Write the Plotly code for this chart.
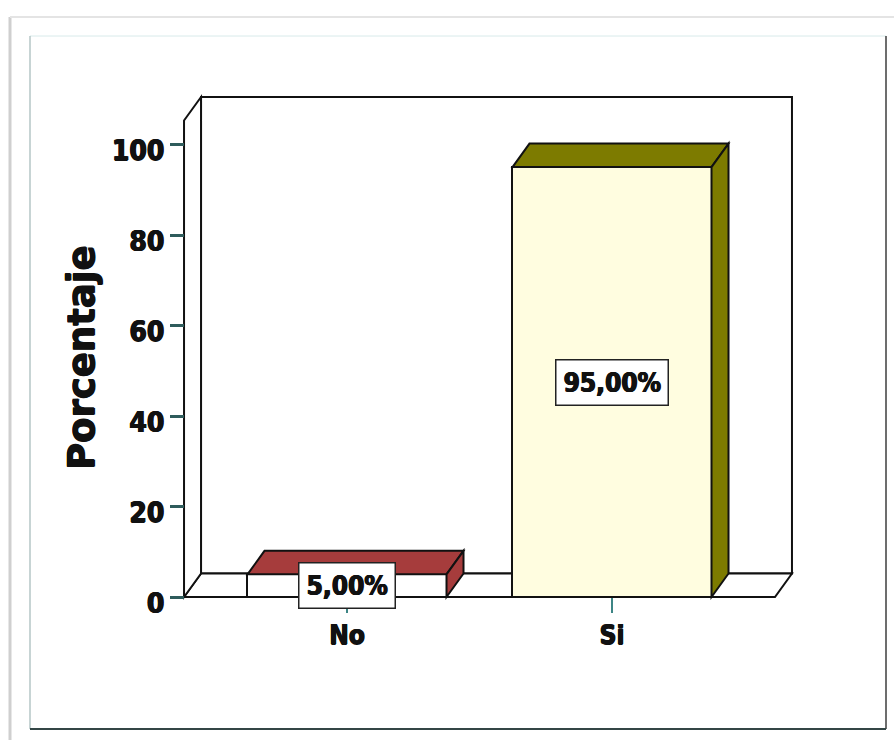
import plotly.graph_objects as go

# Share of answers per category (percent)
categories = ["No", "Si"]
percentages = [5.0, 95.0]
y_ticks = [0, 20, 40, 60, 80, 100]
axis_title = "Porcentaje"

# Face colours for each bar: front, top/side
front_colors = ["#FFFFFF", "#FFFDE0"]
depth_colors = ["#A63C3C", "#7D7B00"]

# Canvas and plot-area geometry
W, H = 894, 740
ML, MR, MT, MB = 172, 92, 92, 135
PW, PH = W - ML - MR, H - MT - MB

# Axis scales (pixels per data unit) and ranges
PX_X, PX_Y = 265.0, 4.525
x_min = -(347 - ML) / PX_X
x_max = x_min + PW / PX_X
y_min = -(H - MB - 597) / PX_Y
y_max = y_min + PH / PX_Y

# Pseudo-3D depth offset in data units
DX = 17 / PX_X
DY = 23.5 / PX_Y
BAR_W = 0.751
X_LEFT, X_RIGHT = -0.615, 1.615
WALL_TOP = 110.5

LINE = dict(color="#111111", width=2)

# Heavy text: bold face thickened with a tight text-shadow
HEAVY = "0.7px 0px 0px #111111, -0.5px 0px 0px #111111, 0px 0.5px 0px #111111"


def heavy_font(family, size):
    return dict(family=family, size=size, color="#111111", weight="bold", shadow=HEAVY)


def px(xp):
    return (xp - ML) / PW


def py(yp):
    return (H - MB - yp) / PH


def poly(points):
    return "M " + " L ".join(f"{a},{b}" for a, b in points) + " Z"


shapes = []

# Page frame
frame = [
    (10, 17, 10, 740, "#cfcfcf", 3),
    (10, 17, 894, 17, "#e4e4e4", 2),
    (30, 36, 886, 36, "#d8eaea", 1),
    (30, 36, 30, 729, "#b5c6c6", 1.5),
    (886, 36, 886, 729, "#3c3c3c", 1.5),
    (30, 729, 886, 729, "#344646", 2),
]
for x0, y0, x1, y1, c, w in frame:
    shapes.append(dict(type="line", xref="paper", yref="paper",
                       x0=px(x0), y0=py(y0), x1=px(x1), y1=py(y1),
                       line=dict(color=c, width=w), layer="below"))

# Back wall, floor and left wall of the 3D box
shapes.append(dict(type="path", xref="x", yref="y", layer="below",
                   path=poly([(X_LEFT + DX, DY), (X_RIGHT + DX, DY),
                              (X_RIGHT + DX, WALL_TOP), (X_LEFT + DX, WALL_TOP)]),
                   fillcolor="white", line=LINE))
shapes.append(dict(type="path", xref="x", yref="y", layer="below",
                   path=poly([(X_LEFT, 0), (X_RIGHT, 0),
                              (X_RIGHT + DX, DY), (X_LEFT + DX, DY)]),
                   fillcolor="white", line=LINE))
shapes.append(dict(type="path", xref="x", yref="y", layer="below",
                   path=poly([(X_LEFT, 0), (X_LEFT, WALL_TOP - DY),
                              (X_LEFT + DX, WALL_TOP), (X_LEFT + DX, DY)]),
                   fillcolor="white", line=LINE))

# Top and side faces of each bar
for i, v in enumerate(percentages):
    xl, xr = i - BAR_W / 2, i + BAR_W / 2
    shapes.append(dict(type="path", xref="x", yref="y", layer="above",
                       path=poly([(xl, v), (xl + DX, v + DY),
                                  (xr + DX, v + DY), (xr, v)]),
                       fillcolor=depth_colors[i], line=LINE))
    shapes.append(dict(type="path", xref="x", yref="y", layer="above",
                       path=poly([(xr, 0), (xr, v),
                                  (xr + DX, v + DY), (xr + DX, DY)]),
                       fillcolor=depth_colors[i], line=LINE))

fig = go.Figure()
fig.add_trace(go.Bar(
    x=list(range(len(categories))),
    y=percentages,
    width=BAR_W,
    marker=dict(color=front_colors, line=dict(color="#111111", width=2)),
    hoverinfo="skip",
    showlegend=False,
))

# Value labels in the middle of each bar
annotations = []
for i, v in enumerate(percentages):
    annotations.append(dict(
        x=i, y=v / 2, xref="x", yref="y",
        text=f"{v:.2f}".replace(".", ",") + "%",
        showarrow=False,
        font=heavy_font("DejaVu Sans Condensed", 26),
        bgcolor="white", bordercolor="#222222", borderwidth=1.5, borderpad=7,
    ))

annotations.append(dict(
    x=px(81), y=py(358), xref="paper", yref="paper",
    xanchor="center", yanchor="middle",
    text=axis_title, textangle=-90, showarrow=False,
    font=heavy_font("DejaVu Sans", 37),
))

fig.update_layout(
    width=W, height=H,
    margin=dict(l=ML, r=MR, t=MT, b=MB, autoexpand=False),
    paper_bgcolor="white", plot_bgcolor="rgba(0,0,0,0)",
    shapes=shapes, annotations=annotations,
    bargap=0,
)

fig.update_xaxes(
    range=[x_min, x_max], anchor="free", position=py(597),
    tickvals=list(range(len(categories))), ticktext=categories,
    ticks="outside", ticklen=15, tickwidth=2, tickcolor="#3d8585",
    showline=False, showgrid=False, zeroline=False,
    tickfont=heavy_font("DejaVu Sans Condensed", 26),
    fixedrange=True,
)
fig.update_yaxes(
    range=[y_min, y_max], anchor="free", position=px(184),
    tickvals=y_ticks, ticktext=[str(t) for t in y_ticks],
    ticks="outside", ticklen=14, tickwidth=2.5, tickcolor="#2f5c5c",
    ticklabelshift=6,
    showline=False, showgrid=False, zeroline=False,
    tickfont=heavy_font("DejaVu Sans Condensed", 28),
    fixedrange=True,
)

fig.write_html("out.html", config={"displayModeBar": False})
